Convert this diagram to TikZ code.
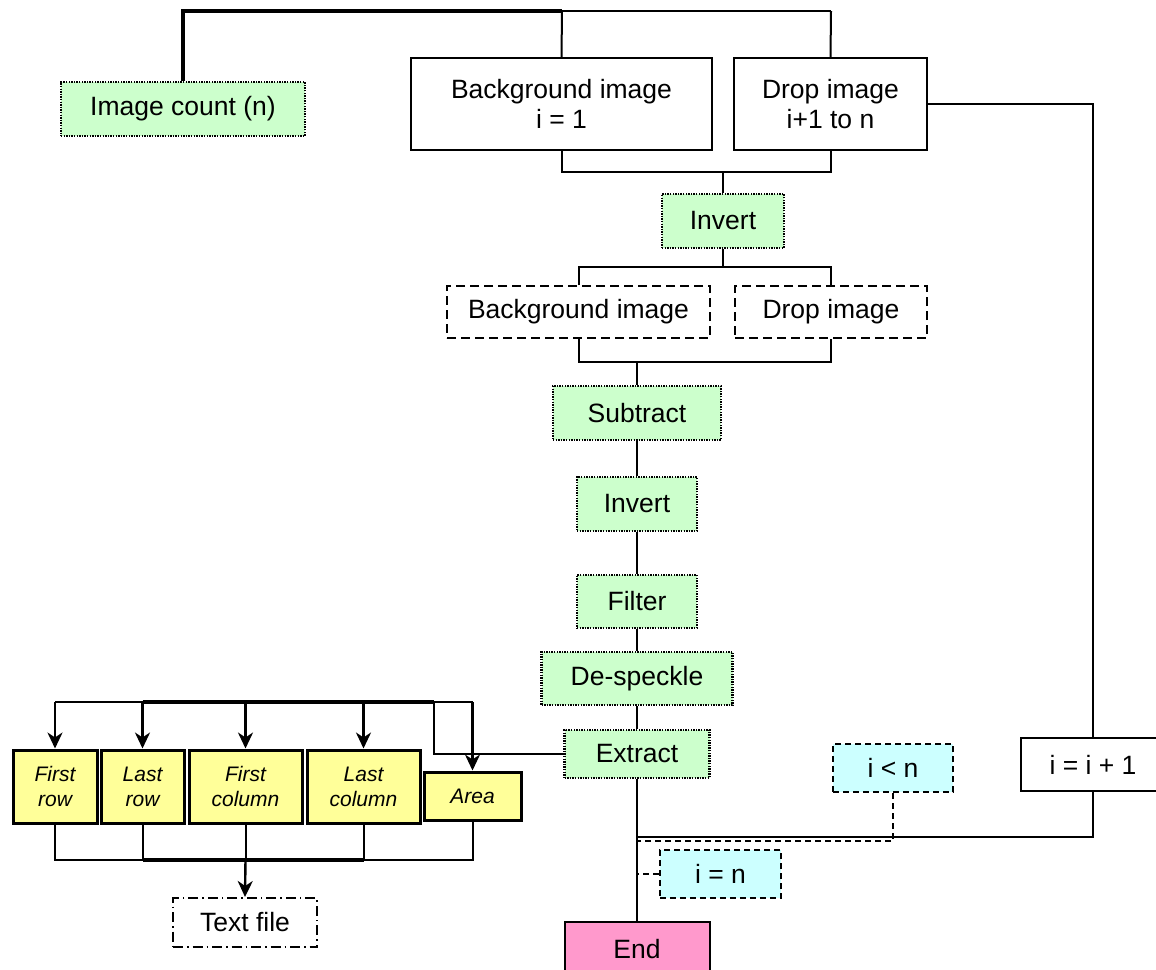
\documentclass[tikz,border=0pt]{standalone}
\usepackage{fontspec}
\setmainfont{Liberation Sans}
\usetikzlibrary{arrows.meta}
\definecolor{boxgreen}{HTML}{CCFFCC}
\definecolor{boxyellow}{HTML}{FFFF99}
\definecolor{boxcyan}{HTML}{CCFFFF}
\definecolor{boxpink}{HTML}{FF99CC}
\tikzset{
  base/.style={draw=black, line width=2pt, inner sep=0pt, align=center,
    font=\fontsize{26.5}{30}\selectfont},
  procbox/.style={base, fill=boxgreen, line width=2.2pt, dash pattern=on 1.4pt off 1.2pt},
  plainbox/.style={base, fill=white},
  dashbox/.style={base, dash pattern=on 9pt off 5pt},
  condbox/.style={base, fill=boxcyan, dash pattern=on 6pt off 4pt},
  outbox/.style={base, fill=boxyellow, line width=3pt,
    font=\fontsize{21}{25}\selectfont\itshape},
  filebox/.style={base, dash pattern=on 10pt off 4pt on 1.5pt off 4pt},
  endbox/.style={base, fill=boxpink},
  conn/.style={line width=2pt},
  thickconn/.style={line width=3.4pt},
  dconn/.style={line width=2pt, dash pattern=on 6pt off 4pt},
  arr/.style={line width=2.4pt, -{Stealth[length=16pt,width=15pt,inset=5pt]}}
}
\begin{document}
\begin{tikzpicture}[x=1pt,y=-1pt]
\useasboundingbox (0,0) rectangle (1156,969);
% nodes
\node[procbox, minimum width=244pt, minimum height=54pt] (cnt) at (183,109) {Image count (n)};
\node[plainbox, minimum width=301pt, minimum height=92pt] (bg1) at (561.5,104) {Background image\\i = 1};
\node[plainbox, minimum width=193pt, minimum height=92pt] (dr1) at (830.5,104) {Drop image\\i+1 to n};
\node[procbox, minimum width=122pt, minimum height=54pt] (inv1) at (723,221) {Invert};
\node[dashbox, minimum width=263pt, minimum height=52pt] (bg2) at (578.5,312) {Background image};
\node[dashbox, minimum width=192pt, minimum height=52pt] (dr2) at (831,312) {Drop image};
\node[procbox, minimum width=168pt, minimum height=54pt] (sub) at (637,413) {Subtract};
\node[procbox, minimum width=120pt, minimum height=54pt] (inv2) at (637,504) {Invert};
\node[procbox, minimum width=120pt, minimum height=53pt] (fil) at (637,601.5) {Filter};
\node[procbox, minimum width=191pt, minimum height=53pt] (desp) at (637,678.5) {De-speckle};
\node[procbox, minimum width=145pt, minimum height=48pt] (ext) at (637,754) {Extract};
\node[condbox, minimum width=120pt, minimum height=48pt] (iltn) at (893,768) {i < n};
\node[plainbox, minimum width=144pt, minimum height=53pt] (inc) at (1093,764.5) {i = i + 1};
\node[condbox, minimum width=121pt, minimum height=48pt] (ieqn) at (720.5,874) {i = n};
\node[endbox, minimum width=145pt, minimum height=54pt] (end) at (637,949) {End};
\node[outbox, minimum width=84pt, minimum height=73pt] (fr) at (55,786.5) {First\\row};
\node[outbox, minimum width=83pt, minimum height=73pt] (lr) at (142.5,786.5) {Last\\row};
\node[outbox, minimum width=113pt, minimum height=73pt] (fc) at (245.5,786.5) {First\\column};
\node[outbox, minimum width=113pt, minimum height=73pt] (lc) at (363.5,786.5) {Last\\column};
\node[outbox, minimum width=97pt, minimum height=48pt] (area) at (472.5,796) {Area};
\node[filebox, minimum width=144pt, minimum height=49pt] (txt) at (245,922.5) {Text file};
% coordinates
\coordinate (topa) at (562,11);
\coordinate (topb) at (831,11);
\coordinate (j1) at (723,172);
\coordinate (j2) at (723,267);
\coordinate (j3) at (637,362);
\coordinate (ltop) at (434,702);
\coordinate (lbot) at (245.5,860);
\coordinate (loop) at (637,837);
\coordinate (dloop) at (637,841);
\coordinate (dn) at (637,874);
% top
\draw[thickconn] (cnt.north) |- (topa);
\draw[conn] (topa) -- (topb);
\draw[conn] (topa) -- (bg1.north);
\draw[conn] (topb) -- (dr1.north);
% merge to invert
\draw[conn] (bg1.south) |- (j1) -| (dr1.south);
\draw[conn] (inv1.north) -- (j1);
% split after invert
\draw[conn] (inv1.south) -- (j2);
\draw[conn] (bg2.north) |- (j2) -| (dr2.north);
% merge to subtract
\draw[conn] (bg2.south) |- (j3) -| (dr2.south);
\draw[conn] (sub.north) -- (j3);
% chain
\draw[conn] (sub) -- (inv2);
\draw[conn] (inv2) -- (fil);
\draw[conn] (fil) -- (desp);
\draw[conn] (desp) -- (ext);
\draw[conn] (ext) -- (end);
% outputs
\draw[conn] (ext.west) -| (ltop);
\draw[conn] (ltop) -- (472.5,702);
\draw[conn] (ltop) -- (55,702);
\draw[thickconn] (142.5,702) -- (434,702);
\draw[arr] (55,702) -- (fr.north);
\draw[arr] (142.5,702) -- (lr.north);
\draw[arr] (245.5,702) -- (fc.north);
\draw[arr] (363.5,702) -- (lc.north);
\draw[arr] (472.5,702) -- (area.north);
\draw[conn] (fr.south) |- (lbot);
\draw[conn] (lr.south) -- (142.5,860);
\draw[conn] (fc.south) -- (lbot);
\draw[conn] (lc.south) -- (363.5,860);
\draw[conn] (area.south) |- (lbot);
\draw[thickconn] (142.5,860) -- (363.5,860);
\draw[arr] (lbot) -- (txt.north);
% loop
\draw[conn] (dr1.east) -| (inc.north);
\draw[conn] (inc.south) |- (loop);
\draw[dconn] (iltn.south) |- (dloop);
\draw[dconn] (ieqn.west) -- (dn);
\end{tikzpicture}
\end{document}
